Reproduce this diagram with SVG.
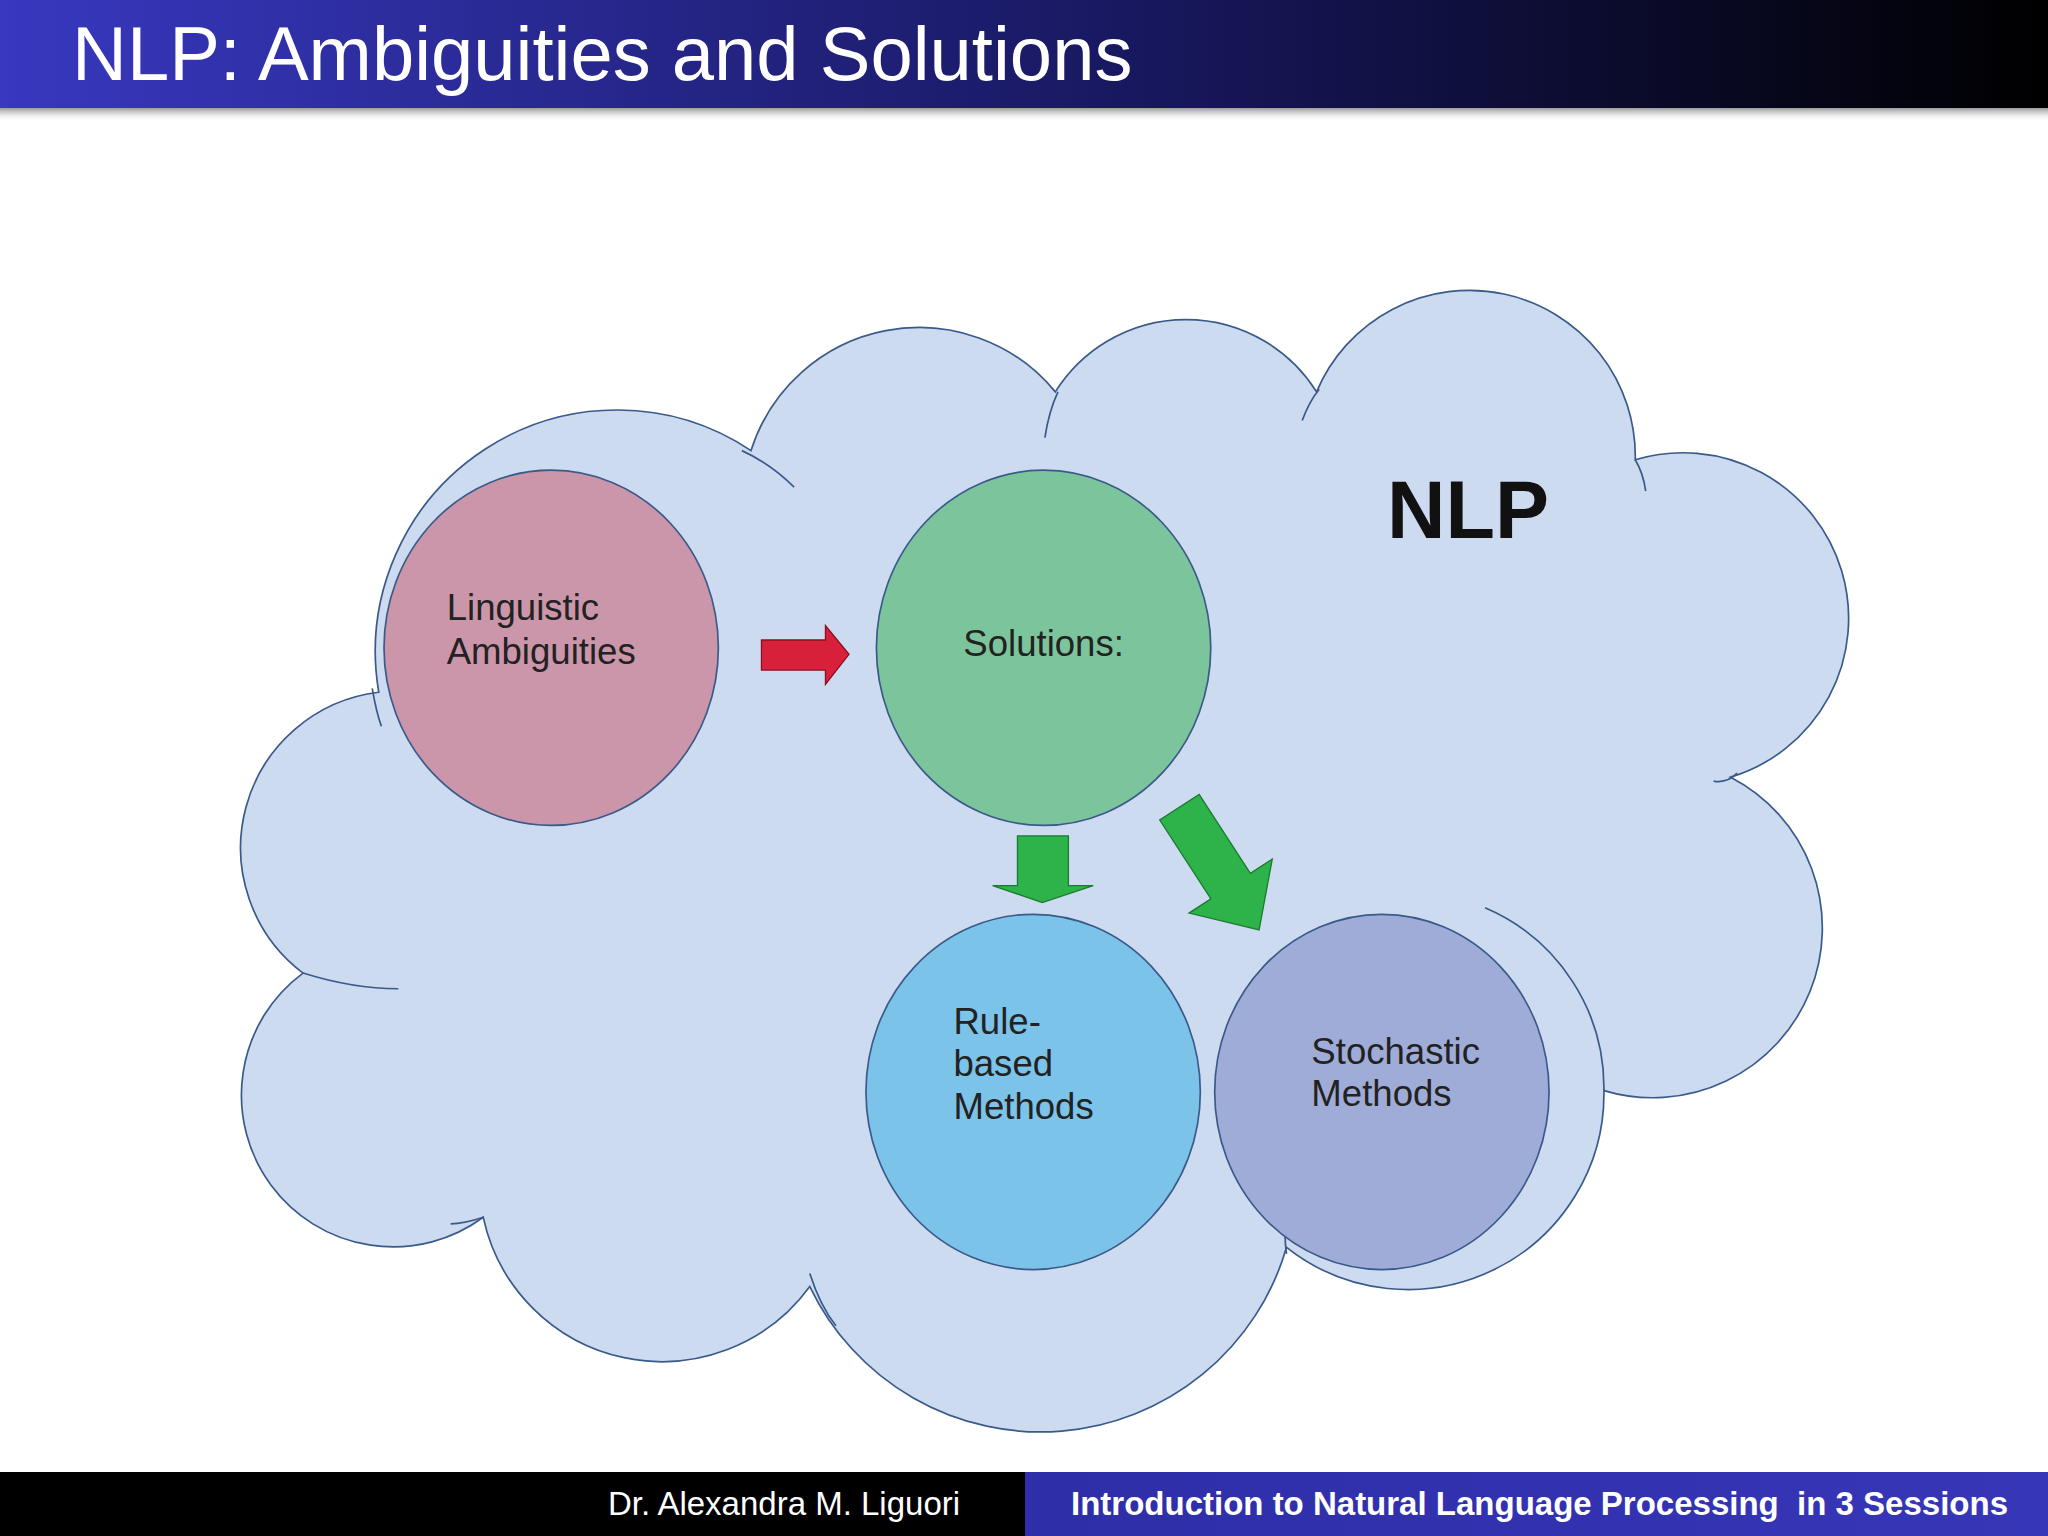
<svg xmlns="http://www.w3.org/2000/svg" width="2048" height="1536" viewBox="0 0 2048 1536">
<defs>
<linearGradient id="tb" x1="0" y1="0" x2="1" y2="0"><stop offset="0" stop-color="#3838c0"/><stop offset="0.55" stop-color="#181860"/><stop offset="1" stop-color="#000"/></linearGradient>
<linearGradient id="sh" x1="0" y1="0" x2="0" y2="1"><stop offset="0" stop-color="#999"/><stop offset="1" stop-color="#fff" stop-opacity="0"/></linearGradient>
<linearGradient id="fb" x1="0" y1="0" x2="1" y2="0"><stop offset="0" stop-color="#2e2ea8"/><stop offset="1" stop-color="#3636b8"/></linearGradient>
</defs>
<style>
.node{stroke:#3a5a8a;stroke-width:1.3}
.t{font-family:"Liberation Sans",Arial,sans-serif;fill:#222;font-size:28px}
.cl{fill:none;stroke:#3a5a8a;stroke-width:1.3}
</style>
<rect width="2048" height="1536" fill="#fff"/>
<rect width="2048" height="108" fill="url(#tb)"/>
<rect y="108" width="2048" height="14" fill="url(#sh)"/>
<text x="72" y="80" font-family="Liberation Sans,Arial,sans-serif" font-size="76" fill="#fff">NLP: Ambiguities and Solutions</text>
<g transform="scale(1.30612)">
<g id="cloud">
<path d="M290,530 A185,185 0 0 1 575,345 A135,135 0 0 1 808,300 A118,118 0 0 1 1008,300 A127,127 0 0 1 1252,352 A110,110 0 0 1 1325,595 A130,130 0 0 1 1228,835 A150,150 0 0 1 985,955 A196,196 0 0 1 620,985 A140,140 0 0 1 370,932 A110,110 0 0 1 232,745 A120,120 0 0 1 290,530 Z" fill="#cddbf0" stroke="#3a5a8a" stroke-width="1.3"/>
<path class="cl" d="M568,345 A135,135 0 0 1 608,373"/>
<path class="cl" d="M810,300 Q803,315 800,335"/>
<path class="cl" d="M1010,298 Q1002,308 997,322"/>
<path class="cl" d="M1252,352 Q1258,362 1260,376"/>
<path class="cl" d="M1330,592 Q1322,600 1312,598"/>
<path class="cl" d="M1137,695 A150,150 0 0 1 1228,835"/>
<path class="cl" d="M985,930 A100,100 0 0 0 985,960"/>
<path class="cl" d="M620,975 Q628,1000 640,1015"/>
<path class="cl" d="M370,932 Q355,937 345,937"/>
<path class="cl" d="M232,745 Q270,757 305,757"/>
<path class="cl" d="M285,527 Q288,545 292,556"/>
</g>
<g id="n1"><ellipse class="node" cx="422" cy="496" rx="128" ry="136" fill="#cc96aa"/><text class="t" x="342" y="475">Linguistic</text><text class="t" x="342" y="508">Ambiguities</text></g>
<g id="n2"><ellipse class="node" cx="799" cy="496" rx="128" ry="136" fill="#7cc59c"/><text class="t" x="799" y="502" text-anchor="middle">Solutions:</text></g>
<g id="n3"><ellipse class="node" cx="791" cy="836" rx="128" ry="136" fill="#7cc3ea"/><text class="t" x="730" y="792">Rule-</text><text class="t" x="730" y="824">based</text><text class="t" x="730" y="857">Methods</text></g>
<g id="n4"><ellipse class="node" cx="1058" cy="836" rx="128" ry="136" fill="#a0acd8"/><text class="t" x="1004" y="815">Stochastic</text><text class="t" x="1004" y="847">Methods</text></g>
<text x="1062" y="412" font-family="Liberation Sans,Arial,sans-serif" font-weight="bold" font-size="62" fill="#111">NLP</text>
<g id="connectors">
<polygon points="583,490 632,490 632,479 650,501 632,524 632,513 583,513" fill="#d8203a" stroke="#8a1020" stroke-width="1"/>
<polygon points="779,640 818,640 818,678 837,678 798,691 760,678 779,678" fill="#2db34a" stroke="#1a7a30" stroke-width="1"/>
<polygon points="0,-18 72,-18 72,-38 112,0 72,38 72,18 0,18" transform="translate(903,618) rotate(57)" fill="#2db34a" stroke="#1a7a30" stroke-width="1"/>
</g>
</g>
<rect y="1472" width="1025" height="64" fill="#000"/>
<rect x="1025" y="1472" width="1023" height="64" fill="url(#fb)"/>
<text x="784" y="1515" text-anchor="middle" font-family="Liberation Sans,Arial,sans-serif" font-size="33" fill="#fff">Dr. Alexandra M. Liguori</text>
<text x="1071" y="1515" font-family="Liberation Sans,Arial,sans-serif" font-size="33" font-weight="bold" fill="#fff" xml:space="preserve">Introduction to Natural Language Processing  in 3 Sessions</text>
</svg>
